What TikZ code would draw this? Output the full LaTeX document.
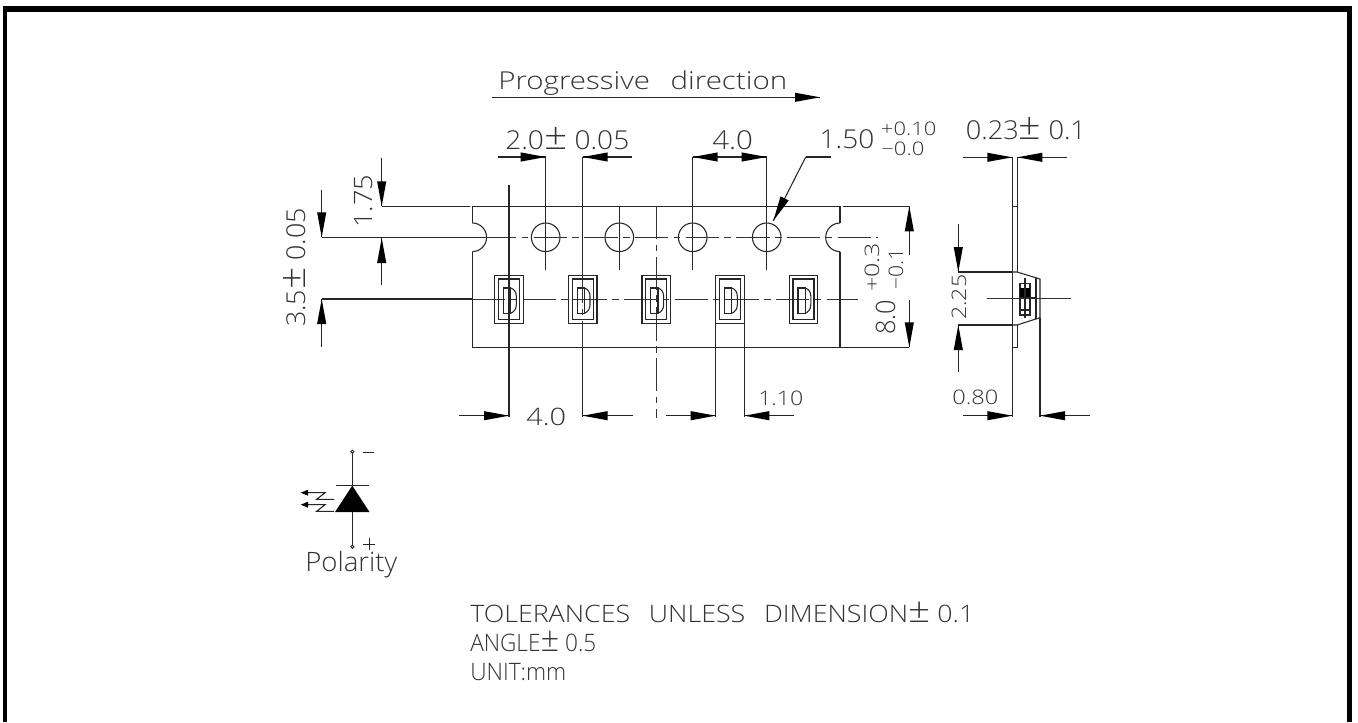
\documentclass[tikz,border=0pt]{standalone}
\usepackage{fontspec}
\usepackage{graphicx}
\setmainfont{Open Sans Light}
\newcommand\fitw[3]{{\fontsize{#2}{#2}\selectfont\resizebox{#1}{\height}{#3}}}
\newcommand\plmn{\smash{\scalebox{1.45}{±}}}
\tikzset{
 line/.style={draw=black!85,line width=0.8pt},
 center line/.style={draw=black!80,line width=0.75pt,dash pattern=on 25pt off 4pt on 5pt off 4pt},
 head/.style={fill=black,draw=none},
 lbl/.style={inner sep=0pt,anchor=base west,text=black!80},
}
\newcommand\arwb[4]{%
 \begin{scope}[shift={(#1,#2)},rotate=#3]
 \draw[line] (0,0) -- (-#4,0);
 \fill[head] (0,0) -- (-25,4.6) -- (-25,-4.6) -- cycle;
 \end{scope}}
\newcommand\pack[1]{%
 \begin{scope}[shift={(#1,0)}]
 \draw[line] (-14.3,275.3) rectangle (14.3,323.3);
 \draw[line] (-10.5,279) rectangle (10.5,319.3);
 \draw[line] (-5.5,288) rectangle (1.7,313.3);
 \draw[line] (1.7,288) .. controls (5,289) and (7.3,292) .. (7.3,296) -- (7.3,305) .. controls (7.3,309) and (5,312) .. (1.7,313.3);
 \end{scope}}
\begin{document}
\begin{tikzpicture}[x=0.75pt,y=-0.75pt]
\useasboundingbox (0,0) rectangle (1358,722);
\fill[white] (0,0) rectangle (1358,722);
\fill[black] (3,6) rectangle (1352.3,11.5);
\fill[black] (3,6) rectangle (7.3,722);
\fill[black] (1347.3,6) rectangle (1352.3,722);
% tape outline
\draw[line] (472.3,223) -- (472.3,206.3) -- (840,206.3) -- (840,223);
\draw[line] (472.3,251.6) -- (472.3,347.3) -- (909.3,347.3);
\draw[line] (840,251.6) -- (840,347.3);
\draw[line] (842.5,206.3) -- (909.3,206.3);
\draw[line] (472.3,223) arc[start angle=-90,end angle=90,radius=14.3];
\draw[line] (840,223) arc[start angle=-90,end angle=-270,radius=14.3];
% holes
\foreach \c in {545.7,619.3,692.7,766.7}{\draw[line] (\c,237.3) circle[radius=14.3];}
% centre lines
\draw[line] (321.7,237.3) -- (483,237.3);
\draw[center line] (483,237.3) -- (878,237.3);
\draw[line] (321.7,299) -- (472,299);
\draw[center line] (472,299) -- (858,299);
\draw[center line] (656.3,206) -- (656.3,418);
% extension lines
\draw[line] (509,185) -- (509,417);
\draw[line] (545.7,157) -- (545.7,270);
\draw[line] (582.7,157) -- (582.7,270);
\draw[center line] (582.7,270) -- (582.7,347);
\draw[line] (582.7,347) -- (582.7,417);
\draw[line] (619.3,206) -- (619.3,270);
\draw[line] (692.7,157) -- (692.7,270);
\draw[line] (766.7,157) -- (766.7,270);
\draw[line] (715.7,323) -- (715.7,417);
\draw[line] (744.3,323) -- (744.3,417);
\draw[line] (381.7,206.3) -- (470,206.3);
% packages
\foreach \c in {509,582.7,656.3,730,803.5}{\pack{\c}}
% dimension arrows
\arwb{820}{97.3}{0}{328}
\arwb{545.7}{157}{0}{48}
\arwb{582.7}{157}{180}{49}
\arwb{766.7}{157}{0}{37}
\arwb{692.7}{157}{180}{37}
\arwb{381.7}{206.3}{-90}{48}
\arwb{381.7}{238}{90}{47}
\arwb{321.7}{237.3}{-90}{47}
\arwb{321.7}{299}{90}{47.7}
\arwb{909.3}{206.3}{90}{49}
\arwb{909.3}{347.3}{-90}{47}
\arwb{509}{415.7}{0}{50}
\arwb{582.7}{415.7}{180}{50}
\arwb{715.7}{415.7}{0}{50}
\arwb{744.3}{415.7}{180}{50}
% leader
\draw[line] (830.7,157) -- (805.7,157);
\begin{scope}[shift={(773.3,220.7)},rotate=-117]
 \draw[line] (0,0) -- (-71.5,0);
 \fill[head] (0,0) -- (-25,4.6) -- (-25,-4.6) -- cycle;
\end{scope}
% side view
\draw[line] (1012.3,157) -- (1012.3,416.7);
\draw[line] (1017.3,157) -- (1017.3,272) (1017.3,325) -- (1017.3,347.7) -- (1012.3,347.7);
\draw[line] (1012.3,206.7) -- (1017.3,206.7);
\draw[line] (958.3,272) -- (1012.3,272) (958.3,325) -- (1012.3,325);
\draw[line] (1012.3,272) -- (1017,272) -- (1040,279) -- (1040,317.7) -- (1017,325) -- (1012.3,325);
\draw[line] (1036,277.5) -- (1036,319);
\draw[line] (1040,317.7) -- (1040,416.7);
\draw[center line] (986.7,298) -- (1071.7,298);
\draw[line] (1020,283.3) rectangle (1030,315);
\fill[black] (1020,288) rectangle (1030,298.3);
\draw[line] (1020,310) -- (1030,310) (1025,278) -- (1025,318) (1020,298) -- (1036,298);
\arwb{1012.3}{157.3}{0}{49}
\arwb{1017.3}{157.3}{180}{49.4}
\arwb{958.3}{272}{-90}{48}
\arwb{958.3}{325}{90}{47.3}
\arwb{1012.3}{415.7}{0}{49.3}
\arwb{1040}{415.7}{180}{50}
% polarity symbol
\draw[line] (352.3,453.2) -- (352.3,545.2);
\draw[line,line width=0.7pt] (352.3,451.7) circle[radius=1.6] (352.3,546.7) circle[radius=1.6];
\draw[line] (335.7,485.7) -- (369,485.7);
\fill[black] (352.3,485.7) -- (335,512) -- (369.5,512) -- cycle;
\draw[line,line width=0.7pt] (362.7,452) -- (374,452);
\draw[line,line width=0.7pt] (369,538) -- (369,550) (363,544) -- (375,544);
\draw[line] (306,492.7) -- (325,492.7) -- (316.7,499.3) -- (334,499.3);
\draw[line] (306,504.7) -- (325,504.7) -- (316.7,511.3) -- (334,511.3);
\fill[black] (300.7,492.7) -- (308,489.7) -- (308,495.7) -- cycle;
\fill[black] (300.7,504.7) -- (308,501.7) -- (308,507.7) -- cycle;
% labels
\node[lbl] (t1) at (498,89.3) {\fitw{216.7pt}{18.5pt}{Progressive\hspace{0.7em}direction}};
\node[lbl] (t2) at (505,149.3) {\fitw{93pt}{19.5pt}{2.0\plmn\ 0.05}};
\node[lbl] (t3) at (712,149.3) {\fitw{30.5pt}{19.5pt}{4.0}};
\node[lbl] (t4) at (819.3,148.5) {\fitw{41pt}{19.5pt}{1.50}};
\node[lbl] (t5) at (880.7,135) {\fitw{41.5pt}{14pt}{+0.10}};
\node[lbl] (t6) at (881,155) {\fitw{32.3pt}{14pt}{−0.0}};
\node[lbl] (t7) at (965.7,139) {\fitw{90pt}{19.5pt}{0.23\plmn\ 0.1}};
\node[lbl,rotate=90] (t8) at (372,228) {\fitw{39.7pt}{19pt}{1.75}};
\node[lbl,rotate=90] (t9) at (305,327) {\fitw{89pt}{19.5pt}{3.5\plmn\ 0.05}};
\node[lbl] (t10) at (526,425) {\fitw{30pt}{18pt}{4.0}};
\node[lbl] (t11) at (758,405) {\fitw{33.8pt}{15pt}{1.10}};
\node[lbl,rotate=90] (t12) at (895,335) {\fitw{26.3pt}{20pt}{8.0}};
\node[lbl,rotate=90] (t13) at (879,292) {\fitw{36.7pt}{15pt}{+0.3}};
\node[lbl,rotate=90] (t14) at (903,290) {\fitw{31pt}{15pt}{−0.1}};
\node[lbl,rotate=90] (t15) at (966,320) {\fitw{33.8pt}{15pt}{2.25}};
\node[lbl] (t16) at (952,404.3) {\fitw{34.5pt}{15pt}{0.80}};
\node[lbl] (t17) at (305,571.7) {\fitw{69pt}{20pt}{Polarity}};
\node[lbl] (t18) at (470,622.5) {\fitw{378pt}{18pt}{TOLERANCES\hspace{0.7em}UNLESS\hspace{0.7em}DIMENSION\plmn\ 0.1}};
\node[lbl] (t19) at (470,651.5) {\fitw{94.5pt}{18pt}{ANGLE\plmn\ 0.5}};
\node[lbl] (t20) at (470,680) {\fitw{72pt}{18pt}{UNIT:mm}};
\end{tikzpicture}
\end{document}
